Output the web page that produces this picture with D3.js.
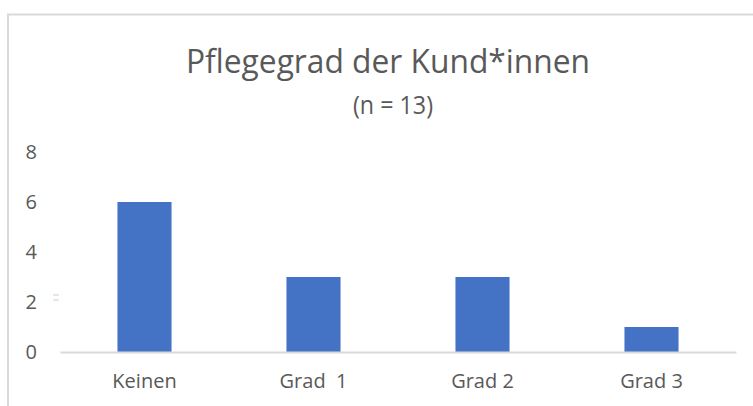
<!DOCTYPE html>
<html>
<head>
<meta charset="utf-8">
<script src="https://cdn.jsdelivr.net/npm/d3@7"></script>
<style>
  html, body { margin: 0; padding: 0; background: #fff; }
  svg { display: block; }
</style>
</head>
<body>
<div id="chart"></div>
<script>
const categories = ['Keinen', 'Grad  1', 'Grad 2', 'Grad 3'];
const counts = [6, 3, 3, 1];
const yTicks = [0, 2, 4, 6, 8];
const titleText = 'Pflegegrad der Kund*innen';
const subtitleText = '(n = 13)';

const width = 753;
const height = 406;
const margin = { top: 152, right: 17, bottom: 54, left: 60 };
const textColor = '#595959';
const font = "'Open Sans', 'Noto Sans', sans-serif";

const svg = d3.select('#chart').append('svg').attr('width', width).attr('height', height);
svg.append('rect').attr('width', width).attr('height', height).attr('fill', '#fff');

// chart area frame (only left and top edges are in view)
svg.append('rect').attr('x', 8).attr('y', 14.5).attr('width', 800).attr('height', 500)
  .attr('fill', 'none').attr('stroke', '#d9d9d9').attr('stroke-width', 2);

const x = d3.scaleBand(categories, [margin.left, width - margin.right]).paddingInner(0.68).paddingOuter(0.34);
const y = d3.scaleLinear([0, 8], [height - margin.bottom, margin.top]);

// title
svg.append('text').attr('x', 388).attr('y', 73).attr('text-anchor', 'middle')
  .attr('font-family', font).attr('font-size', 33).attr('fill', textColor)
  .attr('textLength', 404).attr('lengthAdjust', 'spacingAndGlyphs').text(titleText);
svg.append('text').attr('x', 393).attr('y', 114).attr('text-anchor', 'middle')
  .attr('font-family', font).attr('font-size', 25).attr('fill', textColor)
  .attr('textLength', 80).attr('lengthAdjust', 'spacingAndGlyphs').text(subtitleText);

// y axis labels (no axis line)
const yAxis = svg.append('g').attr('transform', `translate(${margin.left},0)`)
  .call(d3.axisLeft(y).tickValues(yTicks).tickSize(0).tickPadding(23));
yAxis.select('.domain').remove();
yAxis.selectAll('text').attr('font-family', font).attr('font-size', 20).attr('fill', textColor);

// little stray mark next to "2"
svg.append('g').selectAll('line').data([295, 300]).join('line')
  .attr('x1', 53).attr('x2', 59).attr('y1', (d) => d).attr('y2', (d) => d)
  .attr('stroke', '#dedede').attr('stroke-width', 1.5);

// bars
svg.append('g').selectAll('rect').data(counts).join('rect')
  .attr('x', (d, i) => x(categories[i])).attr('y', (d) => y(d))
  .attr('width', x.bandwidth()).attr('height', (d) => y(0) - y(d)).attr('fill', '#4472c4');

// x axis
const xAxis = svg.append('g').attr('transform', `translate(0,${y(0)})`)
  .call(d3.axisBottom(x).tickSize(0).tickPadding(22).tickSizeOuter(0));
xAxis.select('.domain').attr('stroke', '#d9d9d9').attr('stroke-width', 2);
xAxis.selectAll('text').attr('font-family', font).attr('font-size', 20).attr('fill', textColor)
  .style('white-space', 'pre');
</script>
</body>
</html>
